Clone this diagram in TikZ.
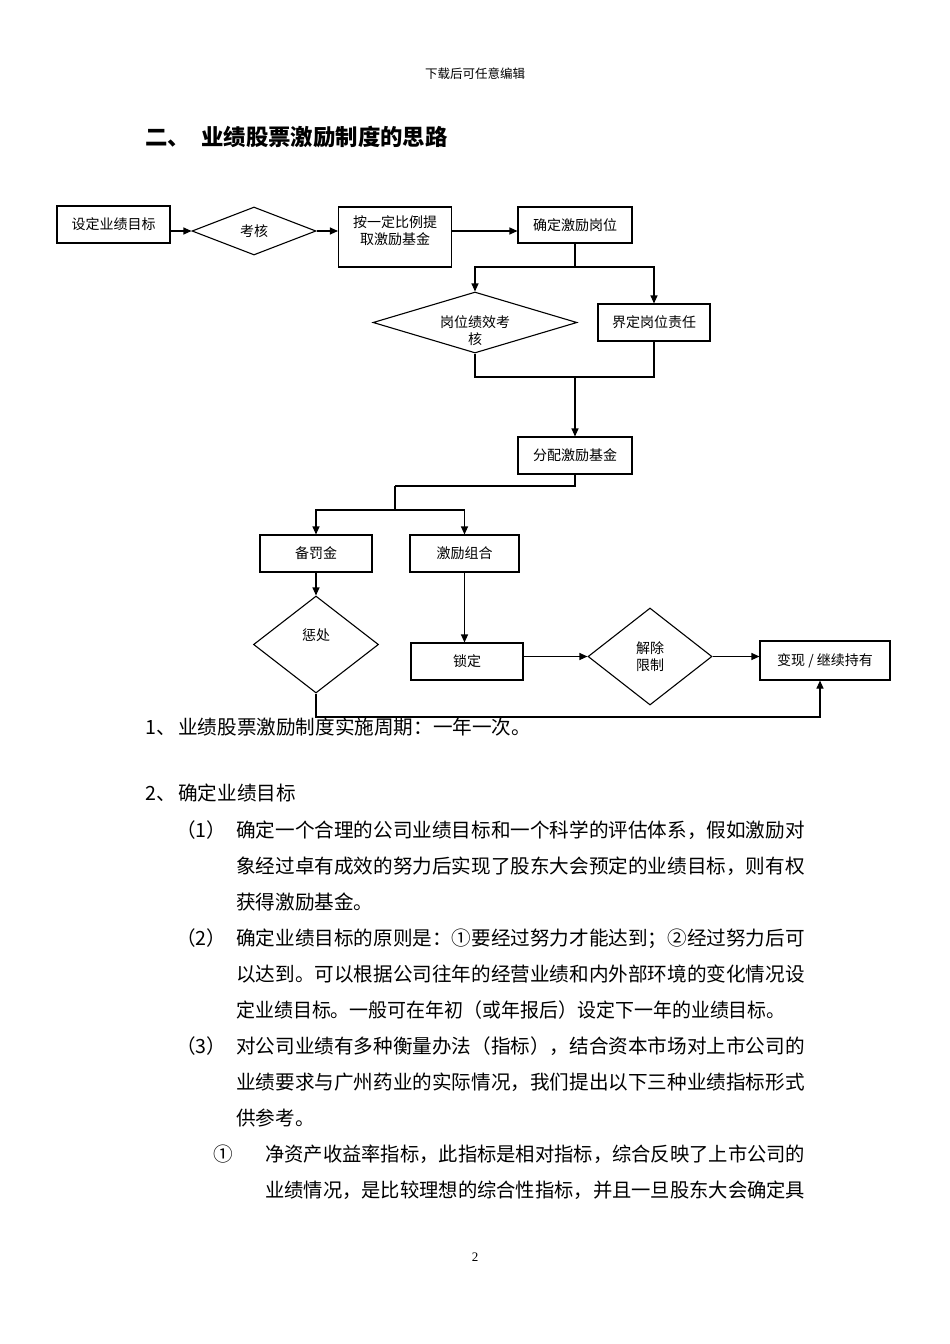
\documentclass[tikz,border=0pt]{standalone}
\usepackage{fontspec}
\usepackage{graphicx}
\setmainfont{Noto Sans CJK SC}
\newfontfamily\numfont{Liberation Serif}
\usetikzlibrary{shapes.geometric,arrows.meta}
\begin{document}
\begin{tikzpicture}[x=1pt,y=-1pt,
  box/.style={draw, line width=1.1pt, inner sep=0pt, align=center, font=\fontsize{14}{17}\selectfont},
  dia/.style={draw, diamond, line width=1.1pt, inner sep=0pt, align=center, font=\fontsize{14}{17}\selectfont},
  ftxt/.style={inner sep=0pt, align=center, font=\fontsize{14}{17}\selectfont},
  arr/.style={line width=1.1pt, -{Triangle[length=8pt,width=7pt]}},
  ln/.style={line width=1.1pt},
  body/.style={inner sep=0pt, anchor=base west, font=\fontsize{19.6}{19.6}\selectfont},
]
\fill[white] (0,0) rectangle (950,1344);
\useasboundingbox (0,0) rectangle (950,1344);

% header, title, page number
\node[inner sep=0pt, anchor=base, font=\fontsize{12.5}{12.5}\selectfont] (hdr) at (475,78.8) {下载后可任意编辑};
\node[inner sep=0pt, anchor=base west, font=\fontsize{22.4}{22.4}\selectfont\bfseries] (t1) at (145,145.5) {二、};
\node[inner sep=0pt, anchor=base west, font=\fontsize{22.4}{22.4}\selectfont\bfseries] (t2) at (201,145.5) {业绩股票激励制度的思路};
\node[inner sep=0pt, anchor=base, font=\fontsize{13}{13}\numfont] (pg) at (475,1261) {2};

% flowchart nodes
\node[box, minimum width=113, minimum height=37] (b1) at (113.5,224.5) {设定业绩目标};
\node[dia, minimum width=124, minimum height=48, shape aspect=2.58] (d1) at (254,231) {考核};
\node[box, minimum width=113, minimum height=60] (b2) at (395,237) {};
\node[ftxt] (b2t) at (395,231) {按一定比例提\\取激励基金};
\node[box, minimum width=114, minimum height=36] (b3) at (575,225) {确定激励岗位};
\node[dia, minimum width=204, minimum height=61, shape aspect=3.3] (d2) at (475,322.5) {};
\node[ftxt] (d2t) at (475,330.5) {岗位绩效考\\核};
\node[box, minimum width=112, minimum height=37] (b4) at (654,322.5) {界定岗位责任};
\node[box, minimum width=114, minimum height=37] (b5) at (575,455.5) {分配激励基金};
\node[box, minimum width=112, minimum height=37] (b6) at (316,553.5) {备罚金};
\node[box, minimum width=109, minimum height=37] (b7) at (464.5,553.5) {激励组合};
\node[dia, minimum width=125, minimum height=97, shape aspect=1.29] (d3) at (316,644.5) {};
\node[ftxt] (d3t) at (316,635) {惩处};
\node[box, minimum width=112, minimum height=37] (b8) at (467,661.5) {锁定};
\node[dia, minimum width=124, minimum height=97, shape aspect=1.28] (d4) at (650,656.5) {解除\\限制};
\node[box, minimum width=130, minimum height=39] (b9) at (825,660.5) {变现 / 继续持有};

% junctions
\coordinate (j1) at (575,267);
\coordinate (j2) at (575,377);
\coordinate (j3) at (395,486);
\coordinate (j4) at (395,510);
\coordinate (j5) at (820,717);

% connectors
\draw[arr] (b1.east |- d1.west) -- (d1.west);
\draw[arr] (d1.east) -- (d1.east -| b2.west);
\draw[arr] (b2.east |- d1.center) -- (b3.west |- d1.center);
\draw[ln] (b3.south) -- (j1);
\draw[arr] (j1) -| (d2.north);
\draw[arr] (j1) -| (b4.north);
\draw[ln] (d2.south) |- (j2);
\draw[ln] (b4.south) |- (j2);
\draw[arr] (j2) -- (b5.north);
\draw[ln] (b5.south) |- (j3);
\draw[ln] (j3) -- (j4);
\draw[arr] (j4) -| (b6.north);
\draw[arr] (j4) -| (b7.north);
\draw[arr] (b6.south) -- (d3.north);
\draw[arr] (b7.south) -- (b7.south |- b8.north);
\draw[arr] (b8.east |- d4.west) -- (d4.west);
\draw[arr] (d4.east) -- (d4.east -| b9.west);
\draw[arr] (d3.south) |- (j5) -- (j5 |- b9.south);

% body text
\node[body] (l1a) at (145,734.5) {1、};
\node[body] (l1b) at (178,734.5) {业绩股票激励制度实施周期：一年一次。};
\node[body] (l2a) at (145,800.5) {2、};
\node[body] (l2b) at (178,800.5) {确定业绩目标};

\node[body] (p1) at (176,837.5) {（1）};
\node[body] (p1a) at (236,837.5) {确定一个合理的公司业绩目标和一个科学的评估体系，假如激励对};
\node[body] (p1b) at (236,873.5) {象经过卓有成效的努力后实现了股东大会预定的业绩目标，则有权};
\node[body] (p1c) at (236,909.5) {获得激励基金。};

\node[body] (p2) at (176,945.5) {（2）};
\node[body] (p2a) at (236,945.5) {确定业绩目标的原则是：①要经过努力才能达到；②经过努力后可};
\node[body] (p2b) at (236,981.5) {以达到。可以根据公司往年的经营业绩和内外部环境的变化情况设};
\node[body] (p2c) at (236,1017.5) {\scalebox{0.967}[1]{定业绩目标。一般可在年初（或年报后）设定下一年的业绩目标。}};

\node[body] (p3) at (176,1053.5) {（3）};
\node[body] (p3a) at (236,1053.5) {对公司业绩有多种衡量办法（指标），结合资本市场对上市公司的};
\node[body] (p3b) at (236,1089.5) {业绩要求与广州药业的实际情况，我们提出以下三种业绩指标形式};
\node[body] (p3c) at (236,1125.5) {供参考。};

\node[body] (q1) at (213,1161.5) {①};
\node[body] (q1a) at (265,1161.5) {\scalebox{0.984}[1]{净资产收益率指标，此指标是相对指标，综合反映了上市公司的}};
\node[body] (q1b) at (265,1197.5) {\scalebox{0.984}[1]{业绩情况，是比较理想的综合性指标，并且一旦股东大会确定具}};
\end{tikzpicture}
\end{document}
